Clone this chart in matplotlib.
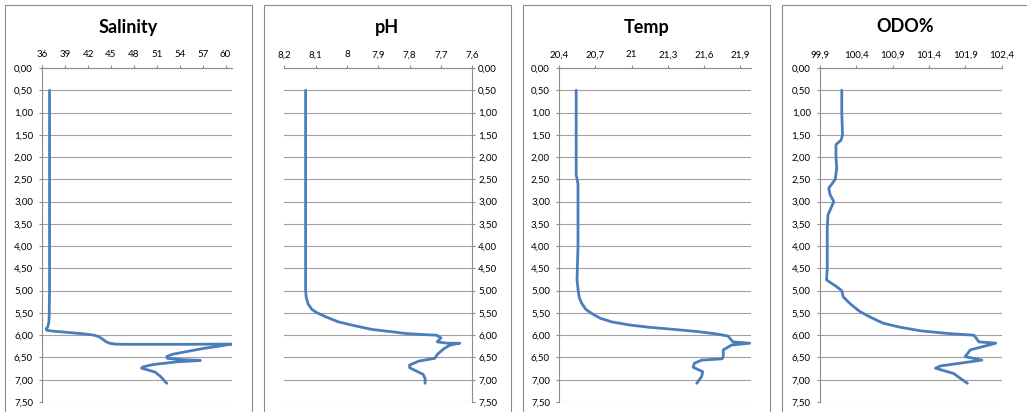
import matplotlib
matplotlib.use("Agg")
import matplotlib.pyplot as plt
from matplotlib.patches import Rectangle
from matplotlib.ticker import FuncFormatter

plt.rcParams["font.family"] = ["Lato", "DejaVu Sans"]

W, H = 1027, 412
LINE_COLOR = "#4A7EBB"
GRID_COLOR = "#A0A0A0"
AXIS_COLOR = "#8C8C8C"

depth_ticks = [0.0, 0.5, 1.0, 1.5, 2.0, 2.5, 3.0, 3.5, 4.0, 4.5, 5.0, 5.5, 6.0, 6.5, 7.0, 7.5]

# Salinity profile (value, depth)
sal_depth = [0.5, 1.0, 2.0, 3.0, 4.0, 5.0, 5.6, 5.72, 5.82, 5.86, 5.89, 5.91, 5.94, 5.97,
             6.0, 6.04, 6.09, 6.14, 6.18, 6.2, 6.205, 6.205, 6.2, 6.2, 6.25, 6.3, 6.43,
             6.48, 6.52, 6.55, 6.565, 6.575, 6.6, 6.66, 6.71, 6.74, 6.78, 6.83, 6.93, 7.08]
sal_value = [36.95, 36.95, 36.95, 36.95, 36.95, 36.95, 36.9, 36.85, 36.7, 36.5, 36.6, 37.5,
             39.5, 41.5, 42.8, 43.5, 43.9, 44.3, 44.8, 45.5, 47.0, 55.0, 59.0, 60.8, 59.0,
             57.0, 53.0, 52.3, 52.4, 54.5, 56.7, 56.0, 53.5, 50.5, 49.2, 49.0, 49.8, 50.8,
             51.5, 52.3]
sal_ticks = [36, 39, 42, 45, 48, 51, 54, 57, 60]

# pH profile
ph_depth = [0.5, 1.0, 2.0, 3.0, 4.0, 5.0, 5.15, 5.3, 5.42, 5.49, 5.58, 5.70, 5.78, 5.87,
            5.92, 5.96, 5.985, 6.0, 6.06, 6.15, 6.18, 6.18, 6.22, 6.30, 6.42, 6.52, 6.58,
            6.67, 6.73, 6.80, 6.88, 6.98, 7.08]
ph_value = [8.132, 8.132, 8.132, 8.132, 8.132, 8.132, 8.130, 8.124, 8.112, 8.097, 8.07,
            8.028, 7.98, 7.921, 7.86, 7.815, 7.76, 7.714, 7.70, 7.712, 7.68, 7.64, 7.67,
            7.69, 7.71, 7.72, 7.77, 7.80, 7.80, 7.78, 7.757, 7.75, 7.751]
ph_ticks = [8.2, 8.1, 8.0, 7.9, 7.8, 7.7, 7.6]

# Temperature profile
temp_depth = [0.5, 1.0, 2.0, 2.4, 2.6, 3.0, 4.0, 4.76, 5.0, 5.15, 5.28, 5.42, 5.51, 5.62,
              5.70, 5.77, 5.82, 5.87, 5.92, 5.97, 6.02, 6.15, 6.18, 6.22, 6.33, 6.48, 6.53,
              6.56, 6.63, 6.72, 6.82, 6.93, 7.08]
temp_value = [20.54, 20.54, 20.54, 20.54, 20.555, 20.555, 20.555, 20.547, 20.557, 20.565,
              20.585, 20.62, 20.668, 20.74, 20.834, 20.98, 21.14, 21.35, 21.55, 21.70,
              21.80, 21.84, 21.98, 21.83, 21.76, 21.76, 21.75, 21.58, 21.52, 21.51, 21.59,
              21.58, 21.54]
temp_ticks = [20.4, 20.7, 21.0, 21.3, 21.6, 21.9]

# Dissolved oxygen profile
odo_depth = [0.5, 1.0, 1.5, 1.62, 1.72, 2.0, 2.25, 2.5, 2.7, 2.85, 3.0, 3.15, 3.3, 3.6,
             4.0, 4.5, 4.76, 4.9, 5.0, 5.14, 5.3, 5.47, 5.6, 5.73, 5.82, 5.90, 5.96, 6.0,
             6.15, 6.18, 6.33, 6.48, 6.56, 6.69, 6.74, 6.86, 7.08]
odo_value = [100.2, 100.2, 100.21, 100.19, 100.12, 100.12, 100.13, 100.11, 100.02, 100.04,
             100.09, 100.05, 100.01, 100.0, 100.0, 100.0, 99.99, 100.12, 100.2, 100.22,
             100.32, 100.45, 100.6, 100.77, 101.0, 101.28, 101.65, 102.02, 102.09, 102.32,
             101.97, 101.90, 102.13, 101.56, 101.49, 101.74, 101.93]
odo_ticks = [99.9, 100.4, 100.9, 101.4, 101.9, 102.4]


def fmt_depth(v, pos):
    return f"{v:.2f}".replace(".", ",")


def fmt_value(v, pos):
    return f"{round(v, 1):g}".replace(".", ",")


def add_panel(fig, box_x, ax_x0, ax_x1, title, values, depths, ticks, xlim, right_axis=False):
    # chart area border
    fig.patches.append(Rectangle((box_x / W, -0.1), 247 / W, (H - 5) / H + 0.1,
                                 transform=fig.transFigure, fill=False,
                                 edgecolor=AXIS_COLOR, linewidth=0.8))
    fig.text((box_x + 123.5) / W, 1 - 27 / H, title, ha="center", va="center",
             fontsize=13, fontweight="bold")

    ax = fig.add_axes([ax_x0 / W, (H - 402) / H, (ax_x1 - ax_x0) / W, 334 / H])
    ax.set_facecolor("none")
    ax.plot(values, depths, color=LINE_COLOR, linewidth=2.0,
            solid_joinstyle="round", solid_capstyle="round")

    ax.set_xlim(*xlim)
    ax.set_ylim(7.5, 0)
    ax.set_xticks(ticks)
    ax.set_yticks(depth_ticks)
    ax.xaxis.set_major_formatter(FuncFormatter(fmt_value))
    ax.yaxis.set_major_formatter(FuncFormatter(fmt_depth))
    ax.xaxis.tick_top()
    if right_axis:
        ax.yaxis.tick_right()
    ax.tick_params(axis="x", direction="out", length=2.2, width=0.8, color=AXIS_COLOR,
                   labelsize=7, pad=4)
    ax.tick_params(axis="y", direction="out", length=2.2, width=0.8, color=AXIS_COLOR,
                   labelsize=7, pad=2 if right_axis else 4.5)

    ax.grid(axis="y", color=GRID_COLOR, linewidth=0.8)
    ax.set_axisbelow(True)
    for side in ["top", "bottom", "left", "right"]:
        ax.spines[side].set_visible(False)
    ax.spines["top"].set_visible(True)
    ax.spines["top"].set_color(AXIS_COLOR)
    ax.spines["top"].set_linewidth(0.8)
    side = "right" if right_axis else "left"
    ax.spines[side].set_visible(True)
    ax.spines[side].set_color(AXIS_COLOR)
    ax.spines[side].set_linewidth(0.8)
    return ax


fig = plt.figure(figsize=(W / 100, H / 100), dpi=100)
fig.patch.set_facecolor("white")

add_panel(fig, 5, 42.3, 232, "Salinity", sal_value, sal_depth, sal_ticks, (36, 60.85))
add_panel(fig, 264, 284.3, 472.3, "pH", ph_value, ph_depth, ph_ticks, (8.2, 7.6),
          right_axis=True)
add_panel(fig, 523, 559.3, 751, "Temp", temp_value, temp_depth, temp_ticks, (20.4, 21.99))
add_panel(fig, 782, 820, 1001.5, "ODO%", odo_value, odo_depth, odo_ticks, (99.9, 102.4))

fig.savefig("out.png", dpi=100)
